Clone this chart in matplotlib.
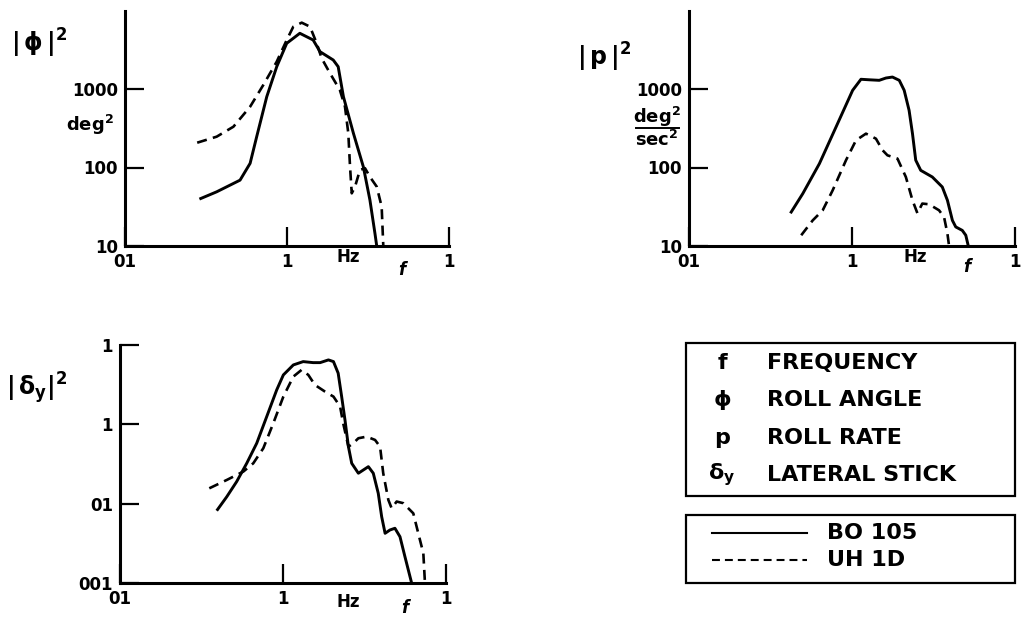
import matplotlib
matplotlib.use("Agg")
import matplotlib.pyplot as plt
from matplotlib.ticker import NullLocator
from matplotlib.patches import Rectangle
from matplotlib.lines import Line2D

plt.rcParams['font.family'] = ['DejaVu Sans']
plt.rcParams['font.weight'] = 'bold'
plt.rcParams['mathtext.fontset'] = 'custom'
plt.rcParams['mathtext.rm'] = 'DejaVu Sans:bold'
plt.rcParams['mathtext.it'] = 'DejaVu Sans:bold'
plt.rcParams['mathtext.bf'] = 'DejaVu Sans:bold'
plt.rcParams['mathtext.fallback'] = 'stixsans'

# frequency axis in Hz, spectra
x_ticks = [0.01, 0.1, 1]
x_labels = ['01', '1', '1']

# roll angle |phi|^2, deg^2
phi_bo_f = [0.0288, 0.0368, 0.0513, 0.0592, 0.065, 0.075, 0.0864, 0.0996, 0.120, 0.145,
            0.160, 0.193, 0.207, 0.223, 0.257, 0.296, 0.325, 0.349, 0.358]
phi_bo = [39.6, 49, 69, 113, 247, 798, 1923, 3820, 5125, 4210,
          2985, 2340, 1923, 798, 273, 102, 38.5, 14.5, 10]
phi_uh_f = [0.0279, 0.0368, 0.0467, 0.0592, 0.0714, 0.0864, 0.0996, 0.1094, 0.1233, 0.1387,
            0.1525, 0.1637, 0.1843, 0.212, 0.228, 0.239, 0.245, 0.251, 0.263, 0.282,
            0.303, 0.325, 0.358, 0.384, 0.393]
phi_uh = [207, 247, 331, 595, 1125, 2228, 4210, 6220, 7000, 6220,
          3820, 2460, 1585, 971, 595, 273, 102, 46.9, 57, 93,
          98, 76, 57, 31.7, 10]

# roll rate |p|^2, deg^2/sec^2
p_bo_f = [0.0419, 0.0499, 0.0631, 0.0798, 0.1009, 0.1135, 0.1276, 0.1469, 0.1615, 0.1771,
          0.195, 0.209, 0.224, 0.235, 0.246, 0.264, 0.311, 0.358, 0.385, 0.413,
          0.433, 0.475, 0.499, 0.517]
p_bo = [26.1, 46.5, 112, 328, 962, 1330, 1310, 1290, 1380, 1420,
        1290, 962, 535, 270, 124, 92, 75.7, 56.5, 38.2, 21.2,
        17.5, 15.8, 13.7, 10]
p_uh_f = [0.0488, 0.0574, 0.0661, 0.0761, 0.0919, 0.1058, 0.1218, 0.1402, 0.154, 0.165,
          0.190, 0.214, 0.235, 0.252, 0.270, 0.297, 0.342, 0.367, 0.385, 0.394]
p_uh = [13.7, 21.2, 28.5, 51.2, 124, 222, 270, 233, 166, 143,
        130, 75.7, 38.2, 26.1, 34.7, 34, 28.5, 23.4, 14.4, 10]

# lateral stick |delta_y|^2
dy_bo_f = [0.0392, 0.0452, 0.052, 0.0599, 0.069, 0.0794, 0.0915, 0.1005, 0.1157, 0.133,
           0.153, 0.169, 0.190, 0.204, 0.218, 0.229, 0.240, 0.252, 0.264, 0.290,
           0.311, 0.334, 0.358, 0.384, 0.403, 0.423, 0.453, 0.486, 0.522, 0.560, 0.616]
dy_bo = [0.0082, 0.0123, 0.0191, 0.0324, 0.058, 0.125, 0.272, 0.42, 0.561, 0.618,
         0.6, 0.6, 0.649, 0.618, 0.442, 0.224, 0.114, 0.0525, 0.0324, 0.0243,
         0.0267, 0.0294, 0.0243, 0.0136, 0.0069, 0.00426, 0.00469, 0.00493, 0.00386, 0.00216, 0.001]
dy_uh_f = [0.0353, 0.0452, 0.0571, 0.0657, 0.0757, 0.0872, 0.1005, 0.1157, 0.130, 0.143,
           0.157, 0.181, 0.204, 0.224, 0.234, 0.252, 0.270, 0.290, 0.326, 0.367,
           0.394, 0.412, 0.443, 0.464, 0.498, 0.547, 0.630, 0.676, 0.726, 0.743]
dy_uh = [0.0157, 0.02, 0.0255, 0.0324, 0.0501, 0.1035, 0.224, 0.4, 0.486, 0.42,
         0.314, 0.259, 0.224, 0.168, 0.1035, 0.0525, 0.058, 0.067, 0.0702, 0.0638,
         0.0525, 0.0243, 0.0112, 0.0088, 0.0107, 0.0102, 0.0076, 0.00426, 0.00239, 0.001]

symbols = ['f', 'ϕ', 'p', r'$\delta_\mathbf{y}$']
names = ['FREQUENCY', 'ROLL ANGLE', 'ROLL RATE', 'LATERAL STICK']
aircraft = ['BO 105', 'UH 1D']

W, H = 1021, 618
DASH = (3.8, 2.4)
fig = plt.figure(figsize=(W / 100, H / 100), dpi=100)


def fx(x):
    return x / W


def fy(y):
    return 1 - y / H


def px_axes(left, right, bottom, top):
    return fig.add_axes([fx(left), fy(bottom), (right - left) / W, (bottom - top) / H])


def setup(ax, ylim, yticks, ylabels):
    ax.set_xscale('log')
    ax.set_yscale('log')
    ax.set_xlim(0.01, 1)
    ax.set_ylim(*ylim)
    for s in ['top', 'right']:
        ax.spines[s].set_visible(False)
    for s in ['left', 'bottom']:
        ax.spines[s].set_linewidth(2.2)
    ax.set_xticks(x_ticks, x_labels)
    ax.set_yticks(yticks, ylabels)
    ax.xaxis.set_minor_locator(NullLocator())
    ax.yaxis.set_minor_locator(NullLocator())
    ax.tick_params(direction='in', length=14, width=1.6, labelsize=12, pad=5)
    ax.patch.set_alpha(0)


def curves(ax, f1, v1, f2, v2):
    ax.plot(f1, v1, color='black', lw=2.1, solid_capstyle='butt')
    ax.plot(f2, v2, color='black', lw=1.9, dashes=DASH)


def label(x, y, s, size=12, **kw):
    fig.text(fx(x), fy(y), s, fontsize=size, ha='center', va='center',
             color='black', fontweight='bold', **kw)


ax1 = px_axes(125, 449, 246, 10.5)
setup(ax1, (10, 1e4), [10, 100, 1000], ['10', '100', '1000'])
curves(ax1, phi_bo_f, phi_bo, phi_uh_f, phi_uh)
label(39, 43, r'$|\,\phi\,|^2$', size=17)
label(90, 125, r'$\mathrm{deg^2}$', size=13)
label(348, 257, 'Hz')
label(402, 270, 'f', style='italic')

ax2 = px_axes(689, 1015, 246, 10.5)
setup(ax2, (10, 1e4), [10, 100, 1000], ['10', '100', '1000'])
curves(ax2, p_bo_f, p_bo, p_uh_f, p_uh)
label(604, 57, r'$|\,p\,|^2$', size=17)
label(657, 117, r'$\mathrm{deg^2}$', size=13)
label(657, 140, r'$\mathrm{sec^2}$', size=13)
fig.add_artist(Line2D([fx(636), fx(679)], [fy(128), fy(128)], color='black', lw=1.4))
label(915, 257, 'Hz')
label(967, 267, 'f', style='italic')

ax3 = px_axes(120, 446, 583.3, 345)
setup(ax3, (0.001, 1), [0.001, 0.01, 0.1, 1], ['001', '01', '1', '1'])
curves(ax3, dy_bo_f, dy_bo, dy_uh_f, dy_uh)
label(37, 388, r'$|\,\delta_\mathbf{y}|^2$', size=17)
label(348, 602, 'Hz')
label(405, 608, 'f', style='italic')

# symbol key
fig.add_artist(Rectangle((fx(686), fy(495.7)), (1015 - 686) / W, (495.7 - 342.7) / H,
                         transform=fig.transFigure, fill=False, lw=1.6, ec='black'))
rows_y = [363, 400, 438, 475]
for sym, name, yy in zip(symbols, names, rows_y):
    label(722, yy, sym, size=16)
    fig.text(fx(767), fy(yy), name, fontsize=16, ha='left', va='center',
             color='black', fontweight='bold')

# line key
fig.add_artist(Rectangle((fx(686), fy(583.3)), (1015 - 686) / W, (583.3 - 515) / H,
                         transform=fig.transFigure, fill=False, lw=1.6, ec='black'))
for name, yy, dash in zip(aircraft, [533, 560], [None, DASH]):
    ln = Line2D([fx(712), fx(807)], [fy(yy), fy(yy)], color='black', lw=1.5)
    if dash:
        ln.set_dashes(dash)
    fig.add_artist(ln)
    fig.text(fx(827), fy(yy), name, fontsize=16, ha='left', va='center',
             color='black', fontweight='bold')

fig.savefig('out.png', dpi=100)
